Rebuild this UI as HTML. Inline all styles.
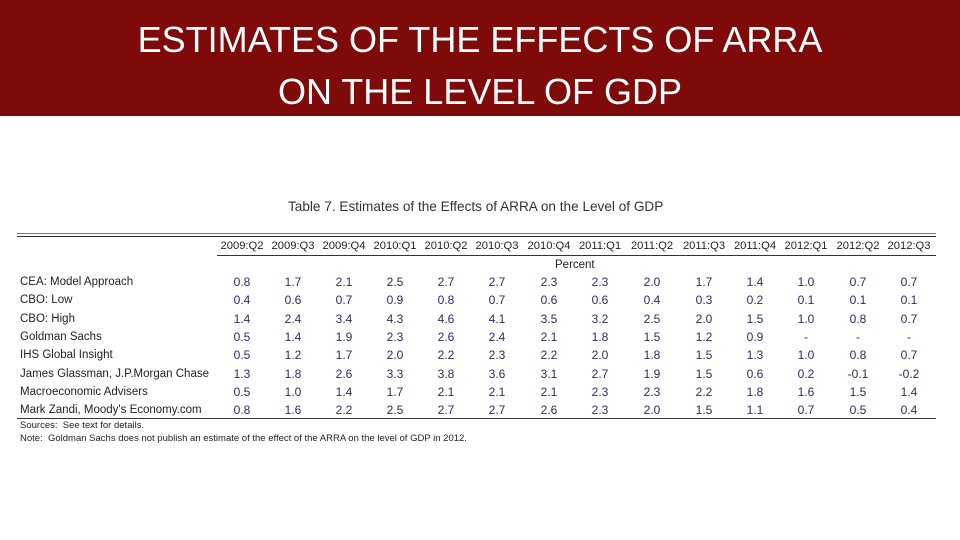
<!DOCTYPE html>
<html><head><meta charset="utf-8"><style>
body{margin:0;width:960px;height:540px;background:#fff;position:relative;overflow:hidden;font-family:"Liberation Sans",Arial,sans-serif}
#band{position:absolute;left:0;top:0;width:960px;height:116px;background:#7e0a0a}
.t{position:absolute;width:960px;text-align:center;color:#fff;font-size:36px;left:0}
.a{position:absolute;white-space:nowrap;font-size:11.5px;color:#222;line-height:14px}
.n{color:#2b2b66;text-align:center;width:50px;margin-left:-25px;font-size:12px}
.h{text-align:center;width:52px;margin-left:-26px;color:#222;font-size:11.2px}
.line{position:absolute;background:#333}
</style></head><body>
<div id="band">
<div class="t" style="top:19px">ESTIMATES OF THE EFFECTS OF ARRA</div>
<div class="t" style="top:71px">ON THE LEVEL OF GDP</div>
</div>
<div class="a" style="left:288px;top:200px;font-size:13.6px;color:#333">Table 7. Estimates of the Effects of ARRA on the Level of GDP</div>
<div class="line" style="left:17px;top:233px;width:919px;height:1px;background:#777"></div>
<div class="line" style="left:17px;top:236px;width:919px;height:1px"></div>
<div class="line" style="left:217px;top:255px;width:719px;height:1px"></div>
<div class="a" style="left:575px;top:258px;margin-left:-20px">Percent</div>
<div class="line" style="left:17px;top:418px;width:919px;height:1px"></div>
<div class="a" style="left:20px;top:419px;font-size:9.5px">Sources:&nbsp; See text for details.</div>
<div class="a" style="left:20px;top:432px;font-size:9.5px">Note:&nbsp; Goldman Sachs does not publish an estimate of the effect of the ARRA on the level of GDP in 2012.</div>
<div id="tbl"></div>
<script>
const quarters=["2009:Q2","2009:Q3","2009:Q4","2010:Q1","2010:Q2","2010:Q3","2010:Q4","2011:Q1","2011:Q2","2011:Q3","2011:Q4","2012:Q1","2012:Q2","2012:Q3"];
const sources=["CEA: Model Approach","CBO: Low","CBO: High","Goldman Sachs","IHS Global Insight","James Glassman, J.P.Morgan Chase","Macroeconomic Advisers","Mark Zandi, Moody's Economy.com"];
const cea=["0.8","1.7","2.1","2.5","2.7","2.7","2.3","2.3","2.0","1.7","1.4","1.0","0.7","0.7"];
const cboLow=["0.4","0.6","0.7","0.9","0.8","0.7","0.6","0.6","0.4","0.3","0.2","0.1","0.1","0.1"];
const cboHigh=["1.4","2.4","3.4","4.3","4.6","4.1","3.5","3.2","2.5","2.0","1.5","1.0","0.8","0.7"];
const goldman=["0.5","1.4","1.9","2.3","2.6","2.4","2.1","1.8","1.5","1.2","0.9","-","-","-"];
const ihs=["0.5","1.2","1.7","2.0","2.2","2.3","2.2","2.0","1.8","1.5","1.3","1.0","0.8","0.7"];
const glassman=["1.3","1.8","2.6","3.3","3.8","3.6","3.1","2.7","1.9","1.5","0.6","0.2","-0.1","-0.2"];
const macro=["0.5","1.0","1.4","1.7","2.1","2.1","2.1","2.3","2.3","2.2","1.8","1.6","1.5","1.4"];
const zandi=["0.8","1.6","2.2","2.5","2.7","2.7","2.6","2.3","2.0","1.5","1.1","0.7","0.5","0.4"];
const rows=[cea,cboLow,cboHigh,goldman,ihs,glassman,macro,zandi];
const colX=[242,293,344,395,446,497,549,600,652,704,755,806,858,909];
const tbl=document.getElementById('tbl');
quarters.forEach((q,i)=>{const d=document.createElement('div');d.className='a h';d.style.left=colX[i]+'px';d.style.top='239px';d.textContent=q;


tbl.appendChild(d);});
sources.forEach((s,r)=>{const y=275+r*18.3;const l=document.createElement('div');l.className='a';l.style.left='20px';l.style.top=y+'px';l.textContent=s;


tbl.appendChild(l);
rows[r].forEach((v,i)=>{const c=document.createElement('div');c.className='a n';c.style.left=colX[i]+'px';c.style.top=y+'px';c.textContent=v;


tbl.appendChild(c);});});
</script>
</body></html>
